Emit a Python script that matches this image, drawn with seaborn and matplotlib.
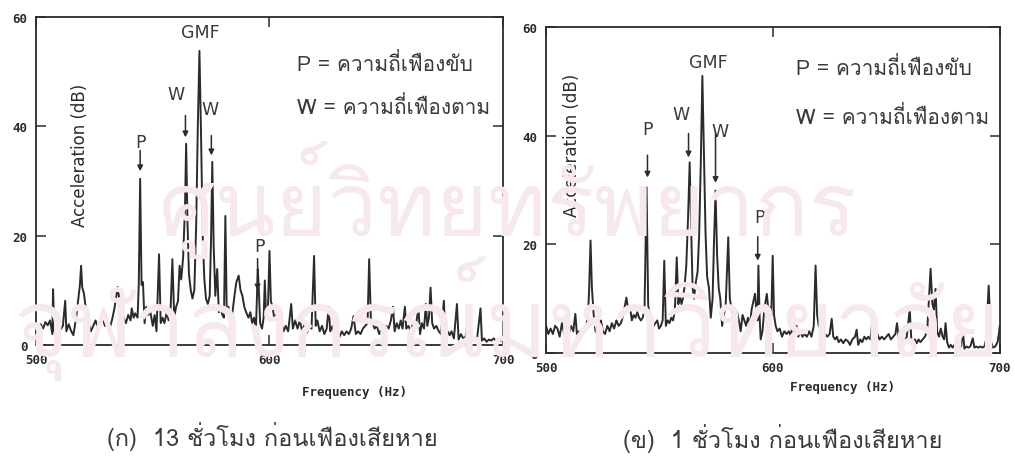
import numpy as np
import pandas as pd
import matplotlib
matplotlib.use("Agg")
import matplotlib.pyplot as plt
from matplotlib import font_manager
import seaborn as sns

# ---- spectrum data: 13 hours before gear failure ----
freq_13h = [
    500, 501, 502, 503, 504, 505, 506, 507, 507.3, 507.8, 508.5, 509.5, 510.5, 511.5, 512.5, 513,
    514, 515, 516, 517, 518, 518.8, 519.3, 519.8, 520.5, 521.5, 522.5, 523.5, 524.5, 525.5, 526.5,
    527.5, 528.5, 529.5, 530.5, 531.5, 532.5, 533.5, 535, 535.8, 536.5, 537.5, 538.5, 539.5, 540.5,
    541, 541.8, 542.5, 543.5, 544, 544.6, 545.2, 545.8, 546.5, 547.2, 548, 549, 550, 550.8, 551.6,
    552.7, 553.4, 554.2, 555, 556, 556.8, 557.6, 558.4, 559.2, 560, 560.8, 561.5, 562.2, 563, 563.8,
    564.3, 564.9, 565.5, 566.3, 567, 567.8, 568.6, 569.3, 570, 570.7, 571.4, 572.1, 572.8, 573.6,
    574.4, 575, 575.5, 576.1, 576.8, 577.6, 578.3, 579, 579.8, 580.5, 581.1, 581.7, 582.4, 583.2,
    584, 585, 585.8, 586.8, 587.6, 588.4, 589.2, 590, 591, 591.8, 592.6, 593.4, 594.2, 594.7, 595,
    595.4, 596, 596.8, 597.5, 598, 598.5, 599.3, 600, 600.6, 601.3, 602, 603, 604, 605, 606, 607,
    608, 609.3, 610, 611, 612, 613, 614, 615, 616, 617, 618, 619.1, 619.8, 620.5, 621.5, 622.5,
    623.5, 624.5, 625.4, 626, 627, 628, 629, 630, 631, 632, 633, 634, 635, 636, 637, 638, 639, 640,
    641, 642, 642.7, 643.4, 644.2, 645, 646, 647, 648, 649, 650, 651, 652, 652.9, 653.6, 654.5,
    655.4, 656.2, 657, 658, 658.6, 659.5, 660.5, 661.5, 662.5, 663.8, 664.5, 665.3, 666.2, 667,
    667.6, 668.3, 669, 669.7, 670.5, 671.5, 672.5, 673.5, 674.7, 675.4, 676.3, 677.2, 678, 679,
    680.3, 681, 682, 683, 684, 685.2, 686, 687, 688, 689, 690.4, 691, 692, 693, 694, 695, 696, 697,
    698, 699, 700,
]
db_13h = [
    3.5, 2.5, 3.8, 3.0, 4.2, 3.6, 4.5, 2.0, 10.2, 2.5, 3.5, 4.0, 2.8, 3.5, 8.1, 2.5,
    3.8, 2.6, 1.8, 4.5, 8.0, 11.0, 14.5, 10.5, 9.5, 6.0, 4.0, 2.5, 3.5, 4.5, 3.2,
    3.8, 5.0, 3.5, 4.2, 3.0, 4.5, 6.5, 10.6, 8.0, 7.0, 5.0, 4.0, 5.5, 4.5,
    6.7, 5.0, 5.8, 5.0, 11.0, 30.4, 11.0, 11.5, 4.0, 7.0, 5.5, 6.0, 3.5, 5.5, 2.5,
    16.6, 4.0, 5.0, 4.0, 6.0, 4.5, 6.0, 15.7, 5.0, 7.0, 8.0, 14.5, 12.0, 16.0, 25.0,
    36.8, 22.0, 13.0, 10.0, 8.5, 10.0, 22.0, 40.0, 53.8, 38.0, 20.0, 12.0, 8.5, 7.5,
    9.0, 20.0, 33.5, 18.0, 9.0, 13.9, 6.0, 7.0, 5.5, 5.0, 23.6, 6.0, 7.0, 4.5,
    5.5, 9.0, 11.5, 12.7, 10.0, 9.0, 7.0, 6.0, 5.0, 6.0, 4.0, 5.0, 3.0, 10.0, 13.9,
    10.5, 4.0, 3.0, 5.0, 11.8, 6.0, 6.0, 17.2, 8.0, 7.0, 5.0, 5.5, 3.5, 4.5, 2.5, 3.5,
    2.5, 7.5, 3.0, 4.5, 3.0, 4.5, 2.5, 3.8, 2.2, 3.5, 3.0, 16.3, 3.5, 4.5, 2.5, 3.5,
    2.0, 3.0, 7.0, 2.5, 3.5, 1.5, 2.5, 1.5, 2.5, 1.8, 2.5, 2.0, 3.0, 5.3, 2.0, 2.5, 2.0, 3.0,
    3.5, 4.0, 15.7, 5.0, 4.0, 3.0, 3.5, 2.0, 3.0, 2.0, 3.5, 3.0, 4.5, 7.0, 2.5, 4.0,
    3.0, 4.5, 3.0, 7.0, 3.0, 3.5, 2.5, 4.0, 3.0, 6.7, 2.0, 4.0, 3.0, 7.5,
    3.5, 5.0, 10.5, 4.0, 3.0, 3.5, 2.5, 2.0, 8.1, 1.5, 2.5, 1.8, 2.5, 1.2,
    7.5, 1.0, 2.0, 1.2, 1.5, 5.4, 0.8, 1.5, 1.0, 1.5, 6.7, 0.8, 1.2, 0.6, 1.0, 0.8, 1.2, 0.8,
    1.0, 0.7, 1.0,
]

# ---- spectrum data: 1 hour before gear failure ----
freq_1h = [
    500, 501, 502, 503, 504, 505, 506, 507, 508, 509, 510, 511, 512, 512.9, 513.6, 514.5, 515.5,
    516.5, 517.5, 518.5, 519, 519.6, 520.2, 521, 521.8, 522.6, 523.5, 524.2, 525, 526, 527, 528,
    529, 530, 531, 532, 533, 534, 535.4, 536.2, 537, 537.8, 538.6, 539.4, 540.2, 541, 541.8, 542.6,
    543.4, 544.3, 545, 545.8, 546.6, 547.4, 548.2, 549, 549.8, 550.6, 551.4, 552.1, 552.8, 553.6,
    554.4, 555.2, 556, 556.8, 557.6, 558.3, 559, 559.7, 560.3, 561, 561.8, 562.6, 563.3, 564,
    564.6, 565.2, 566, 566.8, 567.5, 568.2, 568.9, 569.6, 570.3, 571, 571.8, 572.6, 573.4, 574,
    574.7, 575.4, 576.1, 576.8, 577.6, 578.4, 579.2, 580.3, 581, 581.8, 582.6, 583.4, 584.2, 585,
    585.8, 586.6, 587.4, 588.2, 589, 589.8, 590.6, 591.4, 592.1, 592.7, 593.2, 593.6, 594.1, 594.6,
    595.4, 596.2, 597.3, 598, 598.8, 599.3, 599.9, 600.5, 601.2, 602, 603, 604, 605, 606, 607, 608,
    608.9, 609.6, 610.4, 611.2, 612, 613, 614, 615, 616, 617, 618, 618.8, 619.5, 620.2, 621, 622,
    623, 624, 625, 625.9, 626.6, 627.4, 628.2, 629, 630, 631, 632, 633, 634, 635, 636.2, 636.9,
    637.6, 638.5, 639.4, 640.3, 641.2, 642, 643, 643.7, 644.4, 645.2, 646, 647, 648, 649, 650, 651,
    652, 653, 654, 654.7, 655.4, 656.2, 657, 658, 659, 660.3, 661, 661.8, 662.6, 663.4, 664.2, 665,
    666, 667, 668, 669.5, 670.3, 671, 671.7, 672.4, 673.2, 674, 674.8, 675.5, 676.1, 676.8, 677.6,
    678.4, 679.2, 680, 681, 682, 683, 683.7, 684.4, 685.3, 686.2, 687, 688.1, 688.8, 689.6, 690.5,
    691.4, 692.3, 693.2, 694, 694.6, 695.1, 695.6, 696.2, 697, 698, 699, 699.6, 700,
]
db_1h = [
    5.0, 3.5, 4.5, 3.5, 5.0, 4.5, 3.0, 5.5, 3.5, 4.0, 3.5, 5.0, 4.0, 7.2, 3.5, 4.0, 3.5,
    4.0, 4.5, 7.0, 12.0, 20.7, 12.0, 7.0, 4.0, 3.5, 4.5, 6.0, 4.0, 3.5, 5.0, 4.0,
    5.5, 4.5, 6.0, 5.0, 5.5, 7.0, 10.2, 8.0, 8.5, 6.0, 7.0, 6.5, 7.5, 6.5, 6.0, 6.5,
    8.0, 30.5, 9.0, 6.0, 6.5, 5.0, 5.5, 6.0, 4.5, 5.0, 6.0, 17.0, 5.0, 6.0,
    5.5, 6.5, 6.0, 8.0, 17.6, 9.0, 10.5, 9.0, 10.0, 12.0, 16.0, 25.0, 35.1, 22.0,
    12.0, 10.0, 13.0, 15.0, 22.0, 35.0, 51.0, 36.0, 22.0, 14.0, 12.0, 6.5, 10.0, 20.0,
    29.9, 18.0, 12.0, 10.0, 5.0, 7.0, 9.0, 21.3, 10.0, 8.0, 7.0, 6.0, 7.5, 6.0,
    4.0, 7.0, 6.0, 5.0, 6.5, 5.0, 8.0, 9.5, 10.9, 8.0, 6.0, 16.1, 7.0, 2.5,
    4.0, 8.0, 10.9, 8.0, 8.5, 7.0, 17.9, 7.0, 5.0, 4.0, 4.5, 3.0, 4.0, 3.5, 4.0, 3.0,
    7.5, 4.0, 5.0, 3.0, 4.0, 3.0, 3.5, 3.0, 4.0, 3.0, 5.0, 16.1, 7.0, 5.0, 4.5, 4.0,
    3.5, 3.0, 3.5, 6.3, 3.0, 2.5, 3.0, 2.0, 2.5, 1.8, 2.5, 2.2, 1.5, 2.5, 3.0, 4.3,
    1.5, 2.5, 2.0, 3.0, 2.5, 3.0, 2.5, 5.5, 2.0, 2.5, 3.5, 2.5, 3.0, 2.5, 3.0, 3.5,
    2.5, 3.0, 3.5, 5.5, 3.0, 2.5, 3.0, 2.0, 3.0, 8.1, 2.5, 1.5, 2.5, 1.8, 2.5, 2.0,
    2.5, 3.0, 4.0, 15.5, 9.0, 8.0, 11.8, 4.0, 3.0, 4.5, 3.0, 2.5, 5.5, 2.0, 1.0,
    1.5, 1.0, 1.5, 1.2, 1.5, 1.2, 4.3, 0.8, 1.2, 1.0, 1.2, 2.7, 1.0, 1.2, 1.0,
    1.2, 1.0, 1.2, 2.5, 8.0, 12.4, 8.0, 2.0, 1.0, 1.2, 2.0, 3.5, 5.0,
]

x_ticks = [500, 600, 700]
y_ticks = [0, 20, 40, 60]

legend_p = "P = ความถี่เฟืองขับ"
legend_w = "W = ความถี่เฟืองตาม"
captions = ["(ก)  13 ชั่วโมง ก่อนเฟืองเสียหาย", "(ข)  1 ชั่วโมง ก่อนเฟืองเสียหาย"]
watermark = ["ศูนย์วิทยทรัพยากร", "จุฬาลงกรณ์มหาวิทยาลัย"]

# marker labels: (text, label x, label y, arrow x, arrow start y, arrow end y), data units
marks_13h = [
    ("GMF", 570.5, 57.3, None, None, None),
    ("W", 560.0, 46.0, 564.0, 42.0, 38.0),
    ("W", 574.7, 43.2, 575.1, 38.3, 34.7),
    ("P", 544.7, 37.2, 544.6, 35.6, 31.8),
    ("P", 595.8, 18.1, 594.9, 15.8, 10.0),
]
marks_1h = [
    ("GMF", 571.4, 53.5, None, None, None),
    ("W", 559.6, 44.0, 562.8, 40.4, 36.0),
    ("W", 576.6, 40.9, 574.7, 40.4, 31.3),
    ("P", 544.7, 41.2, 544.7, 36.4, 32.3),
    ("P", 593.9, 25.0, 593.3, 21.4, 17.0),
]


def thai_font():
    """Return the name of an installed font that covers Thai script, if any."""
    try:
        from fontTools.ttLib import TTFont
    except Exception:
        return None
    seen = set()
    for fe in font_manager.fontManager.ttflist:
        if fe.fname in seen:
            continue
        seen.add(fe.fname)
        try:
            tt = TTFont(fe.fname, fontNumber=0, lazy=True)
            cmap = tt.getBestCmap() or {}
            if 0x0E01 in cmap and 0x0E40 in cmap:
                return fe.name
        except Exception:
            continue
    return None


sns.set_theme(style="white")
th = thai_font()
families = ([th] if th else []) + ["DejaVu Sans"]
plt.rcParams["font.family"] = families
mono = ["DejaVu Sans Mono"]

ink = "#2b2b2b"
text_ink = "#3a3a3a"
fig = plt.figure(figsize=(10.15, 4.6), dpi=100)
fig.patch.set_facecolor("white")

# faint background stamp
fig.text(0.5, 0.565, watermark[0], ha="center", va="center", fontsize=64,
         color="#f7e8ef", family=families, zorder=0)
fig.text(0.5, 0.305, watermark[1], ha="center", va="center", fontsize=68,
         color="#f7e8ef", family=families, zorder=0)

ax_a = fig.add_axes([0.0355, 0.2478, 0.460, 0.713])
ax_b = fig.add_axes([0.538, 0.2304, 0.447, 0.7087])

panels = [
    # axes, x, y, marks, legend P pos, legend W pos, y-label pos, x-label pos
    (ax_a, freq_13h, db_13h, marks_13h, (0.56, 0.86), (0.56, 0.73), (0.094, 0.582), (0.683, -0.143)),
    (ax_b, freq_1h, db_1h, marks_1h, (0.55, 0.877), (0.55, 0.727), (0.057, 0.641), (0.654, -0.104)),
]

for ax, fx, fy, marks, pos_p, pos_w, pos_yl, pos_xl in panels:
    ax.patch.set_alpha(0.0)
    df = pd.DataFrame({"Frequency (Hz)": fx, "Acceleration (dB)": fy})
    sns.lineplot(data=df, x="Frequency (Hz)", y="Acceleration (dB)", ax=ax,
                 color=ink, linewidth=1.4, estimator=None, sort=False)
    ax.set_xlim(500, 700)
    ax.set_ylim(0, 60)
    ax.set_xticks(x_ticks)
    ax.set_yticks(y_ticks)
    ax.set_xticklabels([str(v) for v in x_ticks], family=mono, fontsize=9,
                       fontweight="bold", color=ink)
    ax.set_yticklabels([str(v) for v in y_ticks], family=mono, fontsize=9,
                       fontweight="bold", color=ink)
    ax.tick_params(direction="in", length=7, width=1.1, top=True, right=True,
                   bottom=True, left=True, colors=ink, pad=6)
    for s in ax.spines.values():
        s.set_color(ink)
        s.set_linewidth(1.3)
    ax.set_xlabel("")
    ax.set_ylabel("")
    ax.text(*pos_yl, "Acceleration (dB)", transform=ax.transAxes, rotation=90,
            ha="center", va="center", fontsize=12, color=ink, family=["DejaVu Sans"])
    ax.text(*pos_xl, "Frequency (Hz)", transform=ax.transAxes,
            ha="center", va="center", fontsize=9, color=ink, family=mono,
            fontweight="bold")
    ax.text(*pos_p, legend_p, transform=ax.transAxes, ha="left", va="center",
            fontsize=15, color=text_ink, family=families)
    ax.text(*pos_w, legend_w, transform=ax.transAxes, ha="left", va="center",
            fontsize=15, color=text_ink, family=families)
    for label, lx, ly, axx, a0, a1 in marks:
        ax.text(lx, ly, label, ha="center", va="center", fontsize=12.5,
                color=text_ink, family=["DejaVu Sans"])
        if axx is not None:
            ax.annotate("", xy=(axx, a1), xytext=(axx, a0),
                        arrowprops=dict(arrowstyle="-|>", color=ink, lw=1.1,
                                        mutation_scale=8, shrinkA=0, shrinkB=0))

fig.text(0.105, 0.050, captions[0], ha="left", va="center", fontsize=17,
         color=text_ink, family=families)
fig.text(0.614, 0.046, captions[1], ha="left", va="center", fontsize=17,
         color=text_ink, family=families)

fig.savefig("out.png", dpi=100, facecolor="white")
